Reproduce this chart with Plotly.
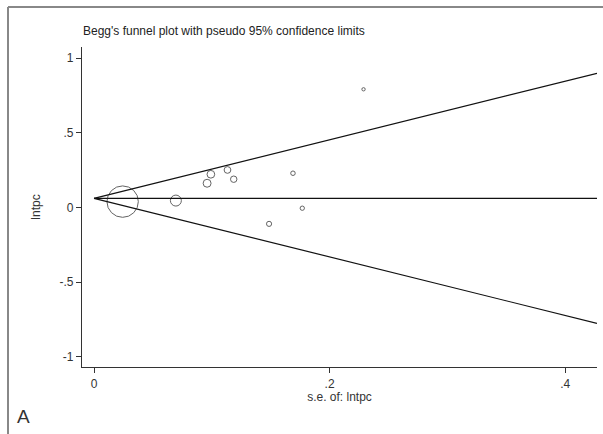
import numpy as np
import plotly.graph_objects as go

# Study data
se = [0.0243, 0.0695, 0.0960, 0.0992, 0.1133, 0.1186, 0.1486, 0.1689, 0.1768, 0.2288]
lntpc = [0.040, 0.047, 0.163, 0.223, 0.252, 0.190, -0.109, 0.230, -0.004, 0.792]

pooled = 0.062
se_limit = [0.0, 0.427]

x_ticks = [0, 0.2, 0.4]
x_ticktext = ["0", ".2", ".4"]
y_ticks = [1, 0.5, 0, -0.5, -1]
y_ticktext = ["1", ".5", "0", "-.5", "-1"]

FONT = "Liberation Sans, Arial, sans-serif"
TXT = "#333333"

se_arr = np.array(se)
# Marker diameter proportional to 1/se (Stata weighting)
sizes = 2 * 15.7 * se_arr[0] / se_arr

fig = go.Figure()
lim = np.array(se_limit)
for yv in [pooled + 1.96 * lim, pooled - 1.96 * lim, pooled + 0 * lim]:
    fig.add_trace(go.Scatter(x=lim, y=yv, mode="lines",
                             line=dict(color="#111111", width=1.2),
                             showlegend=False, hoverinfo="skip"))
fig.add_trace(go.Scatter(x=se, y=lntpc, mode="markers",
                         marker=dict(size=sizes, sizemode="diameter",
                                     color="rgba(0,0,0,0)",
                                     line=dict(color="#222222", width=1)),
                         showlegend=False))

fig.update_layout(
    width=603, height=434,
    margin=dict(l=82, r=6, t=47, b=67),
    paper_bgcolor="white", plot_bgcolor="white",
    font=dict(family=FONT, size=12, color=TXT),
    xaxis=dict(range=[-0.0102, 0.427], tickvals=x_ticks, ticktext=x_ticktext,
               showgrid=False, zeroline=False, showline=True, linecolor="#333333",
               linewidth=1.2, ticks="outside", ticklen=5, tickcolor="#333333",
               tickfont=dict(size=12, color=TXT),
               title=dict(text="s.e. of: lntpc", font=dict(size=12, color=TXT), standoff=1)),
    yaxis=dict(range=[-1.067, 1.075], tickvals=y_ticks, ticktext=y_ticktext,
               showgrid=False, zeroline=False, showline=True, linecolor="#333333",
               linewidth=1.2, ticks="outside", ticklen=5, tickcolor="#333333",
               tickfont=dict(size=12, color=TXT),
               title=dict(text="lntpc", font=dict(size=12, color=TXT), standoff=16)),
    annotations=[
        dict(text="Begg's funnel plot with pseudo 95% confidence limits",
             xref="paper", yref="paper", x=0, y=1, xshift=-1, yshift=7,
             xanchor="left", yanchor="bottom", showarrow=False,
             font=dict(size=12, color="#222222")),
        dict(text="A", xref="paper", yref="paper", x=0, y=0, xshift=-67, yshift=-62,
             xanchor="left", yanchor="bottom", showarrow=False,
             font=dict(size=19, color=TXT)),
    ],
)
# outer frame lines (top and left), in pixel offsets relative to the plot corner
fig.add_shape(type="line", xref="paper", yref="paper", xsizemode="pixel", ysizemode="pixel",
              xanchor=0, yanchor=1, x0=-74, x1=530, y0=40, y1=40,
              line=dict(color="#888888", width=2))
fig.add_shape(type="line", xref="paper", yref="paper", xsizemode="pixel", ysizemode="pixel",
              xanchor=0, yanchor=1, x0=-74, x1=-74, y0=40, y1=-400,
              line=dict(color="#888888", width=2))
fig.write_html("out.html")
